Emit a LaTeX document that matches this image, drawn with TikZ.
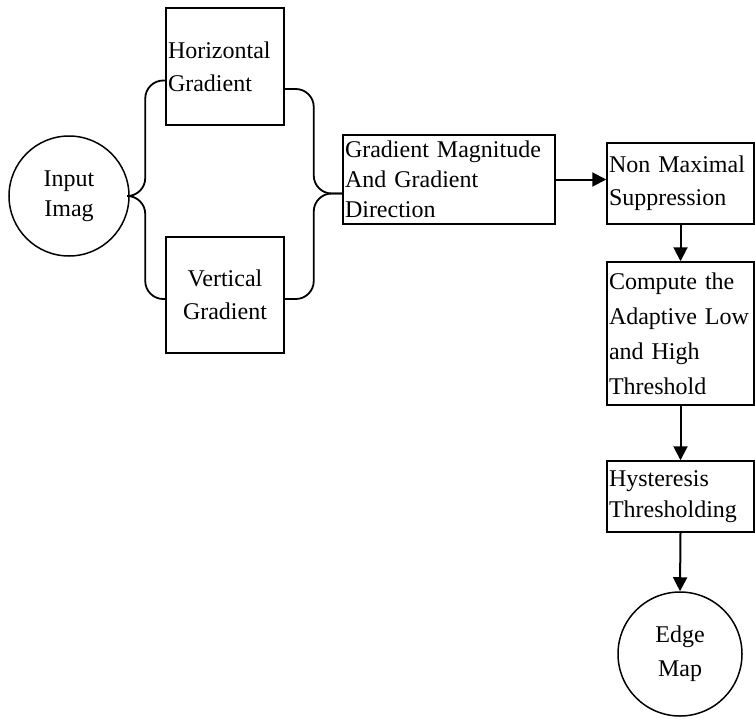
\documentclass[tikz,border=0pt]{standalone}
\usepackage{fontspec}
\setmainfont{Liberation Serif}
\usetikzlibrary{arrows.meta}
\tikzset{
  stage/.style={draw, line width=1.5pt, inner sep=2pt, align=left, font=\fontsize{24}{33}\selectfont},
  blob/.style={draw, circle, line width=1.5pt, inner sep=0pt, align=center, font=\fontsize{24}{30}\selectfont},
  brace/.style={line width=1.8pt, rounded corners=18pt},
  flow/.style={line width=2pt, -{Triangle[length=14pt,width=14pt]}},
}
\begin{document}
\begin{tikzpicture}[x=1pt, y=-1pt]
    \useasboundingbox (0,0) rectangle (755,718);

    % Input and the two gradients
    \node[blob, minimum size=120pt] (ii) at (69,196) {Input\\Imag};
    \node[stage, text width=114pt, minimum height=117pt] (hg) at (225,66.5) {Horizontal\\Gradient};
    \node[stage, text width=114pt, minimum height=116pt, align=center] (vg) at (225,295) {Vertical\\Gradient};

    % Pipeline boxes
    \node[stage, text width=208pt, minimum height=89pt, font=\fontsize{24}{30}\selectfont] (gm) at (449,179.5) {Gradient Magnitude\\And Gradient\\Direction};
    \node[stage, text width=143pt, minimum height=81pt] (nms) at (680.5,183.5) {Non Maximal\\Suppression};
    \node[stage, text width=143pt, minimum height=143pt, font=\fontsize{24}{35}\selectfont] (cp) at (680.5,333.5) {Compute the\\Adaptive Low\\and High\\Threshold};
    \node[stage, text width=143pt, minimum height=71pt, font=\fontsize{24}{31}\selectfont] (hy) at (680.5,496.5) {Hysteresis\\Thresholding};
    \node[blob, minimum size=124pt, font=\fontsize{24}{34}\selectfont] (em) at (680,654) {Edge\\Map};

    % Braces
    \coordinate (gmin) at ([yshift=-14pt]gm.west);
    \draw[brace] ([yshift=-14pt]hg.west) -- ++(-20,0) |- (ii.east);
    \draw[brace] ([yshift=-4pt]vg.west) -- ++(-20,0) |- (ii.east);
    \draw[brace] ([yshift=-22.5pt]hg.east) -- ++(29,0) |- (gmin);
    \draw[brace] ([yshift=-4pt]vg.east) -- ++(29,0) |- (gmin);

    % Arrows
    \draw[flow] (gm.east) -- (gm.east -| nms.west);
    \draw[flow] (nms.south) -- (cp.north);
    \draw[flow] (cp.south) -- (hy.north);
    \draw[flow] (hy.south) -- (em.north);
\end{tikzpicture}
\end{document}
